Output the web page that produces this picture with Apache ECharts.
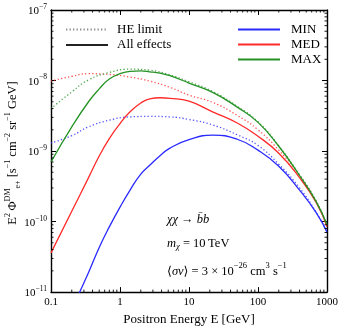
<!DOCTYPE html>
<html>
<head>
<meta charset="utf-8">
<script src="https://cdn.jsdelivr.net/npm/echarts@6/dist/echarts.min.js"></script>
<style>
  html, body { margin: 0; padding: 0; background: #fff; }
  #chart { width: 345px; height: 331px; }
</style>
</head>
<body>
<div id="chart"></div>
<script>
var eHE = [0.1, 0.2, 0.35, 0.7, 1.4, 2.7, 5.3, 10, 22, 50, 100, 200, 400, 700, 1000];
var eAll = [0.1, 0.2, 0.35, 0.5, 0.7, 1, 1.4, 2, 2.7, 3.8, 5.3, 10, 22, 50, 100, 200, 400, 700, 1000];

// high energy limit (dotted)
var minHE = [1.3e-9, 1.65e-9, 2.2e-9, 2.74e-9, 3.05e-9, 3.1e-9, 3.05e-9, 2.8e-9, 2.35e-9, 1.7e-9, 1.2e-9, 6.5e-10, 3.0e-10, 1.35e-10, 7.1e-11];
var medHE = [9.8e-9, 1.15e-8, 1.25e-8, 1.22e-8, 1.12e-8, 9.8e-9, 8.0e-9, 6.2e-9, 4.9e-9, 3.2e-9, 2.0e-9, 1.03e-9, 4.5e-10, 1.9e-10, 8.6e-11];
var maxHE = [4.0e-9, 6.9e-9, 1.02e-8, 1.3e-8, 1.45e-8, 1.4e-8, 1.2e-8, 9.6e-9, 7.0e-9, 4.3e-9, 2.6e-9, 1.18e-9, 4.6e-10, 1.95e-10, 9e-11];

// all effects (solid)
var minAll = [1.3e-12, 5.7e-12, 1.9e-11, 4.3e-11, 8.4e-11, 1.6e-10, 2.8e-10, 4.7e-10, 6.3e-10, 8.6e-10, 1.1e-9, 1.45e-9, 1.68e-9, 1.47e-9, 1.03e-9, 6.1e-10, 2.8e-10, 1.33e-10, 7.1e-11];
var medAll = [3.6e-11, 1.4e-10, 4.2e-10, 8.5e-10, 1.5e-9, 2.45e-9, 3.6e-9, 4.8e-9, 5.5e-9, 5.7e-9, 5.6e-9, 5.1e-9, 3.6e-9, 2.5e-9, 1.62e-9, 9.3e-10, 4.2e-10, 1.85e-10, 8.5e-11];
var maxAll = [7.0e-10, 2.2e-9, 5.0e-9, 7.6e-9, 1.05e-8, 1.25e-8, 1.35e-8, 1.37e-8, 1.33e-8, 1.27e-8, 1.17e-8, 9.2e-9, 6.8e-9, 4.2e-9, 2.55e-9, 1.17e-9, 4.5e-10, 1.9e-10, 9e-11];

var xMin = 0.1, xMax = 1000, yMin = 1e-11, yMax = 1e-7;

var SERIF = "'Liberation Serif', 'DejaVu Serif', serif";
var cBlue = '#2a2aff', cRed = '#ff2a2a', cGreen = '#259225';

function pairs(xs, ys) {
    return xs.map(function (x, i) { return [x, ys[i]]; });
}

function minorValues(lo, hi) {
    var out = [];
    for (var d = lo; d < hi; d *= 10) {
        for (var k = 2; k <= 9; k++) out.push(d * k);
    }
    return out;
}

var chart = echarts.init(document.getElementById('chart'));

function solid(name, color, ys) {
    return {
        name: name, type: 'line', data: pairs(eAll, ys),
        smooth: 0.5, symbol: 'none', clip: true,
        lineStyle: { color: color, width: 1.3 }, itemStyle: { color: color },
        z: 3
    };
}
function dotted(name, color, ys) {
    return {
        name: name, type: 'line', data: pairs(eHE, ys),
        smooth: 0.5, symbol: 'none', clip: true,
        lineStyle: { color: color, width: 1.3, type: [1.3, 2.2], opacity: 0.8 }, itemStyle: { color: color },
        z: 2
    };
}

var axisCommon = {
    type: 'log', logBase: 10,
    axisLine: { show: true, onZero: false, lineStyle: { color: '#000', width: 1.4 } },
    axisTick: { show: true, inside: true, length: 5, lineStyle: { color: '#000', width: 1 } },
    splitLine: { show: false }
};

var legendCommon = {
    orient: 'vertical', top: 18,
    itemWidth: 42, itemHeight: 12,
    selectedMode: false,
    itemStyle: { opacity: 0, borderWidth: 0 }
};

var option = {
    animation: false,
    backgroundColor: '#fff',
    grid: { left: 51, top: 10, right: 18, bottom: 35 },
    legend: [
        Object.assign({}, legendCommon, {
            data: ['HE limit', 'All effects'],
            left: 60, itemGap: 2.5,
            textStyle: { fontFamily: SERIF, fontSize: 13, color: '#000', padding: [0, 0, 0, 4] }
        }),
        Object.assign({}, legendCommon, {
            data: ['MIN', 'MED', 'MAX'],
            left: 232, itemGap: 2,
            textStyle: { fontFamily: SERIF, fontSize: 13, color: '#000', padding: [0, 0, 0, 6] }
        })
    ],
    xAxis: [
        Object.assign({}, axisCommon, {
            min: xMin, max: xMax, position: 'bottom',
            name: 'Positron Energy E [GeV]', nameLocation: 'middle', nameGap: 19,
            nameTextStyle: { fontFamily: SERIF, fontSize: 13, color: '#000' },
            axisLabel: {
                fontFamily: SERIF, fontSize: 11, color: '#000', margin: 5,
                formatter: function (v) { return v < 1 ? String(v) : String(Math.round(v)); }
            }
        }),
        Object.assign({}, axisCommon, {
            min: xMin, max: xMax, position: 'top', axisLabel: { show: false }
        })
    ],
    yAxis: [
        Object.assign({}, axisCommon, {
            min: yMin, max: yMax, position: 'left',
            axisLabel: {
                margin: 4, color: '#000',
                formatter: function (v) {
                    var p = Math.round(Math.log10(v));
                    return '{b|10}{s|\u2212' + Math.abs(p) + '}';
                },
                rich: {
                    b: { fontFamily: SERIF, fontSize: 11, color: '#000', lineHeight: 14, verticalAlign: 'bottom' },
                    s: { fontFamily: SERIF, fontSize: 7.5, color: '#000', lineHeight: 14, verticalAlign: 'top' }
                }
            }
        }),
        Object.assign({}, axisCommon, {
            min: yMin, max: yMax, position: 'right', axisLabel: { show: false }
        })
    ],
    graphic: [
        {
            type: 'text', rotation: Math.PI / 2,
            x: 13, y: 153,
            style: {
                text: '{r|E}{s|2}{r|\u2009\u03a6}{s|DM}{u|e+}{r| [s}{s|\u22121}{r| cm}{s|\u22122}{r| sr}{s|\u22121}{r| GeV]}',
                align: 'center', verticalAlign: 'middle',
                rich: {
                    r: { fontFamily: SERIF, fontSize: 12.5, color: '#000', lineHeight: 18, verticalAlign: 'middle' },
                    s: { fontFamily: SERIF, fontSize: 8, color: '#000', lineHeight: 18, verticalAlign: 'top' },
                    u: { fontFamily: SERIF, fontSize: 8, color: '#000', lineHeight: 18, verticalAlign: 'bottom' }
                }
            }
        },
        {
            type: 'text', left: 167, top: 213,
            style: {
                text: '{i|\u03c7\u03c7}{r| \u2192 }{i|b\u0304b}',
                rich: {
                    i: { fontFamily: SERIF, fontSize: 12.5, fontStyle: 'italic', color: '#000' },
                    r: { fontFamily: SERIF, fontSize: 12.5, color: '#000' }
                }
            }
        },
        {
            type: 'text', left: 167, top: 237,
            style: {
                text: '{i|m}{u|\u03c7}{r| = 10\u2009TeV}',
                rich: {
                    i: { fontFamily: SERIF, fontSize: 12.5, fontStyle: 'italic', color: '#000', lineHeight: 16, verticalAlign: 'middle' },
                    u: { fontFamily: SERIF, fontSize: 8.5, fontStyle: 'italic', color: '#000', lineHeight: 16, verticalAlign: 'bottom' },
                    r: { fontFamily: SERIF, fontSize: 12.5, color: '#000', lineHeight: 16, verticalAlign: 'middle' }
                }
            }
        },
        {
            type: 'text', left: 167, top: 261,
            style: {
                text: '{r|\u27e8}{i|\u03c3v}{r|\u27e9 = 3 \u00d7 10}{s|\u221226}{r| cm}{s|3}{r| s}{s|\u22121}',
                rich: {
                    i: { fontFamily: SERIF, fontSize: 12.5, fontStyle: 'italic', color: '#000', lineHeight: 17, verticalAlign: 'bottom' },
                    r: { fontFamily: SERIF, fontSize: 12.5, color: '#000', lineHeight: 17, verticalAlign: 'bottom' },
                    s: { fontFamily: SERIF, fontSize: 8.5, color: '#000', lineHeight: 17, verticalAlign: 'top' }
                }
            }
        }
    ],
    series: [
        // legend-only entries for the line style key
        { name: 'HE limit', type: 'line', data: [], symbol: 'none',
          lineStyle: { color: '#8a8a8a', width: 1.3, type: [1.3, 2.2] }, itemStyle: { color: '#8a8a8a' } },
        { name: 'All effects', type: 'line', data: [], symbol: 'none',
          lineStyle: { color: '#222', width: 1.4 }, itemStyle: { color: '#222' } },
        dotted('MIN HE', cBlue, minHE),
        dotted('MED HE', cRed, medHE),
        dotted('MAX HE', cGreen, maxHE),
        solid('MIN', cBlue, minAll),
        solid('MED', cRed, medAll),
        solid('MAX', cGreen, maxAll),
        // minor ticks at 2..9 on every side
        {
            type: 'custom', silent: true, clip: false, z: 5,
            data: [0],
            renderItem: function (params, api) {
                var cs = params.coordSys;
                var kids = [];
                var st = { stroke: '#000', lineWidth: 0.9 };
                minorValues(xMin, xMax).forEach(function (v) {
                    var x = api.coord([v, yMin])[0];
                    kids.push({ type: 'line', shape: { x1: x, y1: cs.y + cs.height, x2: x, y2: cs.y + cs.height - 2.5 }, style: st });
                    kids.push({ type: 'line', shape: { x1: x, y1: cs.y, x2: x, y2: cs.y + 2.5 }, style: st });
                });
                minorValues(yMin, yMax).forEach(function (v) {
                    var y = api.coord([xMin, v])[1];
                    kids.push({ type: 'line', shape: { x1: cs.x, y1: y, x2: cs.x + 2.5, y2: y }, style: st });
                    kids.push({ type: 'line', shape: { x1: cs.x + cs.width, y1: y, x2: cs.x + cs.width - 2.5, y2: y }, style: st });
                });
                return { type: 'group', children: kids };
            }
        }
    ]
};

chart.setOption(option);
</script>
</body>
</html>
